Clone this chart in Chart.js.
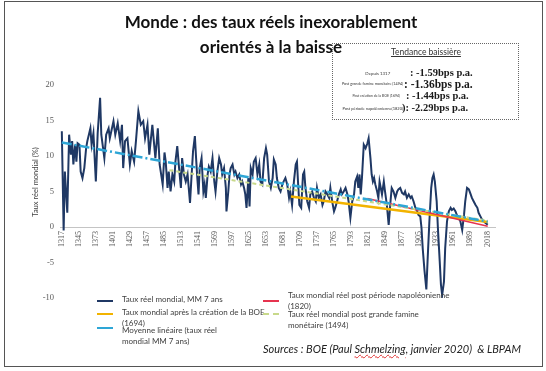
<!DOCTYPE html>
<html>
<head>
<meta charset="utf-8">
<script src="https://cdn.jsdelivr.net/npm/chart.js@4.4.1/dist/chart.umd.min.js"></script>
<style>
html, body { margin: 0; padding: 0; background: #fff; }
#wrap { position: relative; width: 546px; height: 371px; overflow: hidden; font-family: Lato, sans-serif; color: #404040; }
#frame { position: absolute; left: 4px; top: 1px; width: 539px; height: 366px; border: 1.5px solid #555; box-sizing: border-box; }
#chart { position: absolute; left: 0; top: 0; }
.t { position: absolute; white-space: nowrap; }
.title { left: 0; width: 542px; text-align: center; font-weight: bold; font-size: 17px; color: #111; }
#box { position: absolute; left: 332px; top: 43px; width: 187px; height: 77px; border: 1px dotted #666; box-sizing: border-box; }
.lbl { font-size: 8px; line-height: 8px; color: #333; transform-origin: right center; }
.val { font-family: "Liberation Serif", serif; font-weight: bold; font-size: 10.5px; line-height: 12px; color: #1a1a1a; }
.leg { font-size: 8px; color: #404040; line-height: 11px; }
.mark { position: absolute; height: 0; width: 16px; }
#ytitle { position: absolute; left: 35px; top: 182px; transform: translate(-50%, -50%) rotate(-90deg); font-size: 7.5px; color: #404040; white-space: nowrap; }
</style>
</head>
<body>
<div id="wrap">
  <canvas id="chart" width="546" height="371"></canvas>
  <div id="frame"></div>
  <div class="t title" style="top:11px;">Monde : des taux réels inexorablement</div>
  <div class="t title" style="top:36px;">orientés à la baisse</div>

  <div id="box"></div>
  <div class="t" style="left:391px; top:47px; font-size:8.5px; color:#333; text-decoration:underline;">Tendance baissière</div>
  <div class="t lbl" style="right:156px; top:69px; transform:scale(0.55);">Depuis 1317</div>
  <div class="t val" style="left:410px; top:67px;">: -1.59bps p.a.</div>
  <div class="t lbl" style="right:143px; top:80px; transform:scale(0.47);">Post grande famine monétaire (1494)</div>
  <div class="t val" style="left:404px; top:78px; font-size:11.5px; line-height:13px;">: -1.36bps p.a.</div>
  <div class="t lbl" style="right:146px; top:92px; transform:scale(0.44);">Post création de la BOE (1694)</div>
  <div class="t val" style="left:406px; top:90px;">: -1.44bps p.a.</div>
  <div class="t lbl" style="right:143px; top:104px; transform:scale(0.5);">Post période napoléonienne(1820)</div>
  <div class="t val" style="left:402px; top:102px;">): -2.29bps p.a.</div>

  <div id="ytitle">Taux réel mondial (%)</div>

  <div id="legend"></div>

  <div class="t" style="left:263px; top:342px; font-size:11px; font-style:italic; color:#222;">Sources : BOE (Paul <span style="text-decoration:underline wavy #e03030; text-decoration-thickness:1px;">Schmelzing</span>, janvier 2020)&nbsp; &amp; LBPAM</div>
</div>

<script>
// Taux réel mondial, MM 7 ans
const years = [
  1317, 1320, 1322, 1326, 1329, 1332, 1334, 1336, 1339, 1341, 1343, 1346, 1348, 1351, 1354, 1357, 1359,
  1364, 1366, 1369, 1373, 1376, 1380, 1382, 1387, 1390, 1394, 1396, 1402, 1405, 1409, 1413, 1416, 1418,
  1421, 1425, 1429, 1432, 1436, 1439, 1443, 1447, 1451, 1454, 1458, 1461, 1466, 1471, 1475, 1478, 1483,
  1486, 1488, 1491, 1493, 1496, 1499, 1502, 1504, 1507, 1510, 1513, 1515, 1518, 1521, 1524, 1528, 1530,
  1533, 1536, 1538, 1540, 1542, 1544, 1547, 1550, 1552, 1554, 1557, 1559, 1562, 1565, 1568, 1570, 1573,
  1576, 1579, 1581, 1584, 1587, 1588, 1591, 1593, 1595, 1598, 1601, 1603, 1606, 1609, 1612, 1614, 1617,
  1619, 1621, 1624, 1626, 1628, 1631, 1633, 1636, 1639, 1642, 1644, 1647, 1650, 1653, 1655, 1658, 1661,
  1664, 1666, 1669, 1671, 1674, 1677, 1680, 1682, 1685, 1688, 1691, 1693, 1696, 1699, 1702, 1704, 1706,
  1708, 1711, 1714, 1716, 1718, 1721, 1724, 1726, 1729, 1732, 1735, 1737, 1740, 1743, 1746, 1748, 1751,
  1754, 1757, 1759, 1762, 1765, 1767, 1770, 1773, 1776, 1778, 1781, 1784, 1787, 1789, 1792, 1795, 1798,
  1800, 1803, 1805, 1807, 1809, 1811, 1814, 1817, 1820, 1822, 1825, 1827, 1829, 1831, 1833, 1836, 1838,
  1840, 1842, 1844, 1847, 1849, 1852, 1855, 1858, 1860, 1863, 1866, 1869, 1871, 1874, 1877, 1880, 1882,
  1885, 1888, 1891, 1893, 1896, 1899, 1902, 1904, 1907, 1909, 1911, 1914, 1917, 1919, 1922, 1925, 1927,
  1929, 1931, 1934, 1936, 1939, 1941, 1943, 1946, 1948, 1951, 1954, 1957, 1959, 1962, 1965, 1968, 1970,
  1973, 1976, 1979, 1981, 1984, 1987, 1990, 1992, 1995, 1998, 2001, 2003, 2006, 2009, 2012, 2014, 2018
];
const rates = [
  13.5, -0.5, 7.8, 2.0, 13.0, 10.2, 12.1, 8.8, 11.6, 9.2, 11.8, 11.6, 7.8, 6.9, 8.3, 11.1, 12.1,
  13.9, 11.6, 13.2, 6.4, 13.2, 18.2, 13.0, 9.7, 13.0, 13.9, 12.5, 14.9, 13.0, 14.6, 12.1, 14.4, 8.3,
  12.1, 12.5, 8.8, 10.7, 9.2, 12.1, 16.3, 14.4, 14.9, 12.5, 14.4, 10.2, 14.4, 9.7, 13.9, 8.8, 6.0,
  10.5, 9.2, 5.5, 7.8, 5.0, 7.4, 6.4, 9.2, 11.4, 8.3, 5.5, 9.7, 7.4, 6.4, 7.4, 3.4, 6.4,
  10.7, 12.8, 9.7, 6.9, 4.6, 8.3, 9.7, 5.0, 6.0, 4.1, 7.4, 8.5, 7.8, 9.7, 6.4, 5.0, 7.8,
  9.7, 8.8, 7.4, 8.3, 5.5, 2.2, 5.0, 7.4, 8.3, 8.8, 7.4, 7.8, 6.9, 7.4, 6.0, 6.4, 5.5,
  4.6, 2.7, 6.9, 2.9, 8.3, 7.4, 9.2, 9.7, 7.4, 8.8, 6.4, 6.0, 9.7, 11.1, 10.2, 6.4, 5.5,
  6.9, 9.5, 8.8, 6.9, 5.5, 5.0, 6.0, 6.4, 6.9, 6.0, 4.1, 5.0, 3.1, 6.4, 8.8, 9.2, 6.0,
  3.1, 2.7, 7.4, 7.8, 5.5, 3.6, 2.7, 4.6, 5.0, 4.1, 3.6, 5.5, 4.1, 4.6, 3.1, 3.6, 5.0,
  4.6, 4.1, 5.5, 3.6, 2.2, 2.7, 3.6, 4.6, 5.3, 4.6, 5.0, 5.5, 4.6, 3.6, 1.3, 3.6, 4.6,
  6.4, 7.1, 5.5, 7.4, 4.6, 6.9, 11.6, 11.1, 11.8, 12.5, 9.7, 7.4, 6.4, 6.9, 6.0, 5.0, 4.1,
  6.4, 5.5, 4.6, 6.4, 5.0, 3.1, 0.3, 3.6, 5.5, 5.0, 4.1, 5.0, 5.3, 5.5, 4.8, 4.6, 5.0,
  4.1, 4.6, 4.1, 4.3, 3.6, 2.7, 2.2, 1.7, 1.5, -0.1, -3.0, -6.2, -8.8, -4.8, 0.8, 5.5, 6.9,
  7.4, 6.4, 3.6, -0.1, -4.8, -8.1, -9.6, -7.7, -3.0, 0.8, 2.2, 2.7, 2.4, 2.6, 2.2, 1.5, 1.3,
  0.8, -0.4, 1.7, 3.6, 5.5, 5.3, 4.6, 4.1, 3.6, 3.1, 2.7, 2.0, 1.5, 1.0, 0.8, 0.6, 0.3
];

// trend lines (start / end)
const avgYears = [1317, 2018];
const avgRates = [11.9, 0.75];
const famineYears = [1494, 2018];
const famineRates = [8.0, 0.9];
const boeYears = [1694, 2018];
const boeRates = [4.3, 0.7];
const napoYears = [1820, 2018];
const napoRates = [4.0, 0.1];

const tickYears = [1317, 1345, 1373, 1401, 1429, 1457, 1485, 1513, 1541, 1569, 1597, 1625, 1653,
  1681, 1709, 1737, 1765, 1793, 1821, 1849, 1877, 1905, 1933, 1961, 1989, 2018];
const yTicks = [-10, -5, 0, 5, 10, 15, 20];

const toPoints = (xs, ys) => xs.map((x, i) => ({ x: x, y: ys[i] }));

const legendItems = [
  { label: 'Taux réel mondial,  MM 7 ans', color: '#1f3864', dash: '', left: 97, top: 294, markY: 301 },
  { label: 'Taux mondial après la création de la BOE<br>(1694)', color: '#f2b300', dash: '', left: 97, top: 307, markY: 314 },
  { label: 'Moyenne linéaire (taux réel<br>mondial  MM 7 ans)', color: '#2ea6d6', dash: '', left: 97, top: 325, markY: 328 },
  { label: 'Taux mondial réel post période napoléonienne<br>(1820)', color: '#e6334f', dash: '', left: 263, top: 290, markY: 301 },
  { label: 'Taux réel mondial post grande famine<br>monétaire (1494)', color: '#c8d98a', dash: 'dashed', left: 263, top: 309, markY: 314 }
];

const buildLegend = () => {
  const el = document.getElementById('legend');
  legendItems.forEach(item => {
    const mark = document.createElement('div');
    mark.className = 'mark';
    mark.style.left = item.left + 'px';
    mark.style.top = (item.markY - 1) + 'px';
    mark.style.borderTop = '2px ' + (item.dash || 'solid') + ' ' + item.color;
    el.appendChild(mark);
    const txt = document.createElement('div');
    txt.className = 't leg';
    txt.style.left = (item.left + 25) + 'px';
    txt.style.top = item.top + 'px';
    txt.innerHTML = item.label;
    el.appendChild(txt);
  });
};

const createChart = () => {
  const ctx = document.getElementById('chart').getContext('2d');

  new Chart(ctx, {
    type: 'line',
    data: {
      datasets: [
        {
          label: 'Moyenne linéaire (taux réel mondial MM 7 ans)',
          data: toPoints(avgYears, avgRates),
          borderColor: '#2ea6d6',
          borderWidth: 2.5,
          borderDash: [10, 3, 2, 3],
          pointRadius: 0
        },
        {
          label: 'Taux réel mondial post grande famine monétaire (1494)',
          data: toPoints(famineYears, famineRates),
          borderColor: '#c8d98a',
          borderWidth: 2,
          borderDash: [4, 3],
          pointRadius: 0
        },
        {
          label: 'Taux mondial réel post période napoléonienne (1820)',
          data: toPoints(napoYears, napoRates),
          borderColor: '#e6334f',
          borderWidth: 1.5,
          pointRadius: 0
        },
        {
          label: 'Taux mondial après la création de la BOE (1694)',
          data: toPoints(boeYears, boeRates),
          borderColor: '#f2b300',
          borderWidth: 2.5,
          pointRadius: 0
        },
        {
          label: 'Taux réel mondial,  MM 7 ans',
          data: toPoints(years, rates),
          borderColor: '#1f3864',
          borderWidth: 2,
          pointRadius: 0,
          tension: 0
        }
      ]
    },
    options: {
      responsive: false,
      animation: false,
      layout: { padding: { left: 0, top: 85, right: 51, bottom: 73 } },
      plugins: {
        legend: { display: false },
        tooltip: { enabled: false }
      },
      scales: {
        x: {
          type: 'linear',
          min: 1314,
          max: 2030,
          position: { y: 0 },
          afterBuildTicks: (scale) => {
            scale.ticks = tickYears.map(v => ({ value: v }));
          },
          grid: { display: false, drawTicks: false },
          border: { display: true, color: '#c4c4c4', width: 1 },
          ticks: {
            autoSkip: false,
            maxRotation: 90,
            minRotation: 90,
            padding: 4,
            color: '#595959',
            font: { family: 'Liberation Serif', size: 8 },
            callback: (v) => String(v)
          }
        },
        y: {
          min: -10,
          max: 20,
          afterFit: (scale) => { scale.width = 60; },
          afterBuildTicks: (scale) => {
            scale.ticks = yTicks.map(v => ({ value: v }));
          },
          grid: { display: false, drawTicks: false },
          border: { display: false },
          ticks: {
            padding: 6,
            color: '#595959',
            font: { family: 'Liberation Serif', size: 8.5 }
          }
        }
      }
    }
  });
};

document.addEventListener('DOMContentLoaded', function () {
  buildLegend();
  createChart();
});
</script>
</body>
</html>
